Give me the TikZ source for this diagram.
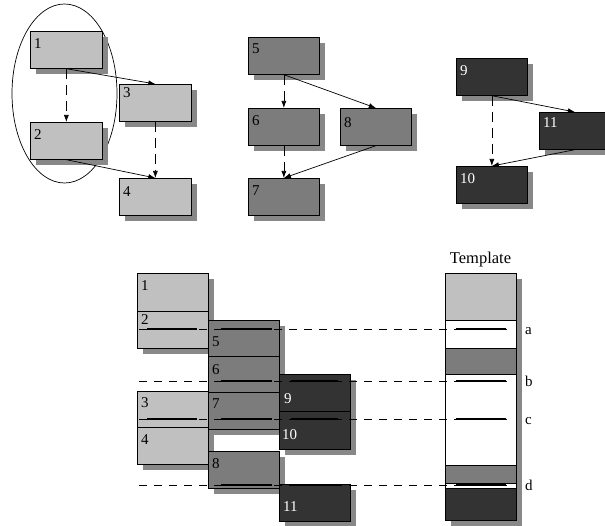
\documentclass[tikz,border=0pt]{standalone}
\usepackage{fontspec}
\setmainfont{Liberation Serif}
\usetikzlibrary{arrows.meta,shadows,shapes.geometric}
\definecolor{lightbox}{HTML}{C0C0C0}
\definecolor{midbox}{HTML}{7C7C7C}
\definecolor{darkbox}{HTML}{333333}
\definecolor{shade}{HTML}{888888}
\begin{document}
\begin{tikzpicture}[x=1pt,y=-1pt,
  blk/.style={draw=black, line width=0.7pt, rectangle, inner sep=0pt,
    minimum width=71pt, minimum height=37pt, anchor=north west,
    drop shadow={shadow xshift=6pt, shadow yshift=-6pt, fill=shade, opacity=1, draw=none}},
  light/.style={blk, fill=lightbox},
  mid/.style={blk, fill=midbox},
  dark/.style={blk, fill=darkbox},
  num/.style={inner sep=0pt, anchor=base west, font=\fontsize{15}{15}\selectfont},
  wnum/.style={num, text=white},
  conn/.style={line width=0.7pt, -{Latex[length=7pt,width=5pt]}},
  dconn/.style={conn, dash pattern=on 10pt off 6pt},
  guide/.style={line width=0.7pt, dash pattern=on 8pt off 7pt},
  cutmark/.style={line width=2pt},
  tag/.style={inner sep=0pt, anchor=base west, font=\fontsize{15}{15}\selectfont}]
\useasboundingbox (0,0) rectangle (605,526);
\clip (0,0) rectangle (605,526);

% ---- first graph (light) ----
\node[draw, line width=0.7pt, ellipse, minimum width=105pt, minimum height=179pt, inner sep=0pt] (grp) at (64.5,93.5) {};
\node[light, minimum width=72pt] (b1) at (30,31) {};
\node[light, minimum width=72pt] (b2) at (30,122) {};
\node[light, minimum width=72pt] (b3) at (119,84) {};
\node[light, minimum width=72pt] (b4) at (119,178) {};
\node[num] at ([shift={(4,18)}]b1.north west) {1};
\node[num] at ([shift={(4,18)}]b2.north west) {2};
\node[num] at ([shift={(4,14)}]b3.north west) {3};
\node[num] at ([shift={(4,19)}]b4.north west) {4};
\draw[dconn] (b1.south) -- (b2.north);
\draw[conn] (b1.south) -- (b3.north);
\draw[dconn] (b3.south) -- (b4.north);
\draw[conn] (b2.south) -- (b4.north);

% ---- second graph (mid) ----
\node[mid] (b5) at (248,37) {};
\node[mid] (b6) at (248,108) {};
\node[mid] (b7) at (248,178) {};
\node[mid] (b8) at (340,108) {};
\node[num] at ([shift={(4,17)}]b5.north west) {5};
\node[num] at ([shift={(4,18)}]b6.north west) {6};
\node[num] at ([shift={(4,18)}]b7.north west) {7};
\node[num] at ([shift={(4,20)}]b8.north west) {8};
\draw[dconn] (b5.south) -- (b6.north);
\draw[conn] (b5.south) -- (b8.north);
\draw[dconn] (b6.south) -- (b7.north);
\draw[conn] (b8.south) -- (b7.north);

% ---- third graph (dark) ----
\node[dark] (b9) at (456,58) {};
\node[dark] (b10) at (456,166) {};
\node[dark] (b11) at (539,112) {};
\node[wnum] at ([shift={(4,18)}]b9.north west) {9};
\node[wnum] at ([shift={(4,18)}]b10.north west) {10};
\node[wnum] at ([shift={(4,16)}]b11.north west) {11};
\draw[dconn] (b9.south) -- (b10.north);
\draw[conn] (b9.south) -- (b11.north);
\draw[conn] (b11.south) -- (b10.north);

% ---- schedule ----
\node[light, minimum height=38pt] (s1) at (137,273) {};
\node[light] (s2) at (137,311) {};
\node[light, minimum height=36pt] (s3) at (137,391) {};
\node[light] (s4) at (137,427) {};
\node[mid, minimum height=36pt] (s5) at (208,320) {};
\node[mid, minimum height=36pt] (s6) at (208,356) {};
\node[mid] (s7) at (208,392) {};
\node[mid] (s8) at (208,451) {};
\node[dark] (s9) at (279,374) {};
\node[dark, minimum height=38pt] (s10) at (279,411) {};
\node[dark] (s11) at (279,484) {};
\node[num] at ([shift={(4,18)}]s1.north west) {1};
\node[num] at ([shift={(4,14)}]s2.north west) {2};
\node[num] at ([shift={(4,16)}]s3.north west) {3};
\node[num] at ([shift={(4,17)}]s4.north west) {4};
\node[num] at ([shift={(4,27)}]s5.north west) {5};
\node[num] at ([shift={(4,19)}]s6.north west) {6};
\node[num] at ([shift={(4,17)}]s7.north west) {7};
\node[num] at ([shift={(4,17)}]s8.north west) {8};
\node[wnum] at ([shift={(5,29)}]s9.north west) {9};
\node[wnum] at ([shift={(3,28)}]s10.north west) {10};
\node[wnum] at ([shift={(4,27)}]s11.north west) {11};

% ---- template ----
\node[blk, fill=white, minimum height=247pt] (tpl) at (445,273) {};
\fill[lightbox] (445,273) rectangle (516,320);
\fill[midbox] (445,348) rectangle (516,374);
\fill[midbox] (445,465) rectangle (516,483);
\fill[darkbox] (445,488) rectangle (516,520);
\foreach \yy in {320,348,374,465,483,488}
  \draw[line width=0.7pt] (445,\yy) -- (516,\yy);
\draw[line width=0.7pt] (tpl.north west) rectangle (tpl.south east);
\node[inner sep=0pt, anchor=base, font=\fontsize{16.5}{16.5}\selectfont] (ttl) at (480.5,264) {Template};

% ---- cut lines ----
\foreach \yy/\lab in {329/a,381/b,419/c,485/d}{
  \coordinate (l\lab) at (139,\yy);
  \coordinate (r\lab) at (513,\yy);
  \draw[guide] (l\lab) -- (r\lab);
  \draw[cutmark] (456,\yy) -- (506,\yy);
  \node[tag] (t\lab) at (525,\yy+5.5) {\lab};
}
\draw[cutmark] (147,329) -- (197,329);
\draw[cutmark] (221,329) -- (272,329);
\draw[cutmark] (221,381) -- (272,381);
\draw[cutmark] (291,381) -- (338,381);
\draw[cutmark] (147,419) -- (197,419);
\draw[cutmark] (221,419) -- (272,419);
\draw[cutmark] (291,419) -- (338,419);
\draw[cutmark] (221,485) -- (272,485);
\draw[cutmark] (291,485) -- (340,485);
\end{tikzpicture}
\end{document}
